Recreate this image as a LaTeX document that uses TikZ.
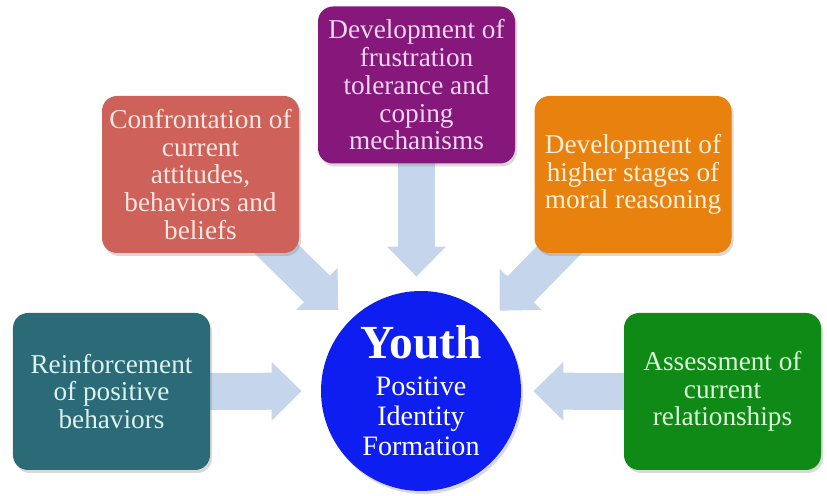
\documentclass[tikz,border=0pt]{standalone}
\usepackage{fontspec}
\setmainfont{Liberation Serif}
\usetikzlibrary{arrows.meta,shadows,backgrounds}

\definecolor{tealbox}{RGB}{43,106,119}
\definecolor{redbox}{RGB}{206,97,89}
\definecolor{purplebox}{RGB}{134,24,124}
\definecolor{orangebox}{RGB}{233,129,15}
\definecolor{greenbox}{RGB}{16,138,22}
\definecolor{youthblue}{RGB}{15,30,240}
\definecolor{arrowblue}{RGB}{197,214,236}

\tikzset{
    box/.style={rectangle, rounded corners=0.3cm, minimum width=3.94cm, minimum height=3.14cm,
        align=center, font=\fontsize{15.5}{15.8}\selectfont,
        drop shadow={opacity=0.3, shadow xshift=0.04cm, shadow yshift=-0.06cm}},
    bigarrow/.style={line width=0.74cm, arrowblue, -{Triangle[length=0.6cm, width=1.14cm]}},
}

\begin{document}
\begin{tikzpicture}
    \useasboundingbox (0,0) rectangle (16.54,9.9);

    % centre
    \node[circle, fill=youthblue, minimum size=4cm, text=white, align=center,
        font=\fontsize{16}{17}\selectfont,
        drop shadow={opacity=0.3, shadow xshift=0.04cm, shadow yshift=-0.06cm}] (youth) at (8.42,2.08)
        {{\fontsize{27}{30}\selectfont\bfseries Youth}\\[4pt] Positive\\ Identity\\ Formation};

    % boxes
    \node[box, fill=tealbox, text={rgb,255:red,220;green,242;blue,240}] (reinforce) at (2.23,2.07)
        {Reinforcement\\ of positive\\ behaviors};
    \node[box, fill=redbox, text={rgb,255:red,252;green,232;blue,226}] (confront) at (4.01,6.41)
        {Confrontation of\\ current\\ attitudes,\\ behaviors and\\ beliefs};
    \node[box, fill=purplebox, text={rgb,255:red,242;green,215;blue,240}] (tolerance) at (8.33,8.20)
        {Development of\\ frustration\\ tolerance and\\ coping\\ mechanisms};
    \node[box, fill=orangebox, text={rgb,255:red,255;green,240;blue,218}] (moral) at (12.66,6.41)
        {Development of\\ higher stages of\\ moral reasoning};
    \node[box, fill=greenbox, text={rgb,255:red,222;green,250;blue,220}] (assess) at (14.45,2.07)
        {Assessment of\\ current\\ relationships};

    % arrows
    \begin{scope}[on background layer]
        \draw[bigarrow, shorten >=0.38cm] (reinforce.center) -- (youth);
        \draw[bigarrow, shorten >=0.24cm] (assess.center) -- (youth);
        \draw[bigarrow, shorten >=0.28cm] (tolerance.center) -- (tolerance.center |- youth.north);
        \draw[bigarrow, shorten >=0.31cm] (confront.center) -- (youth);
        \draw[bigarrow, shorten >=0.24cm] (moral.center) -- (youth);
    \end{scope}
\end{tikzpicture}
\end{document}
